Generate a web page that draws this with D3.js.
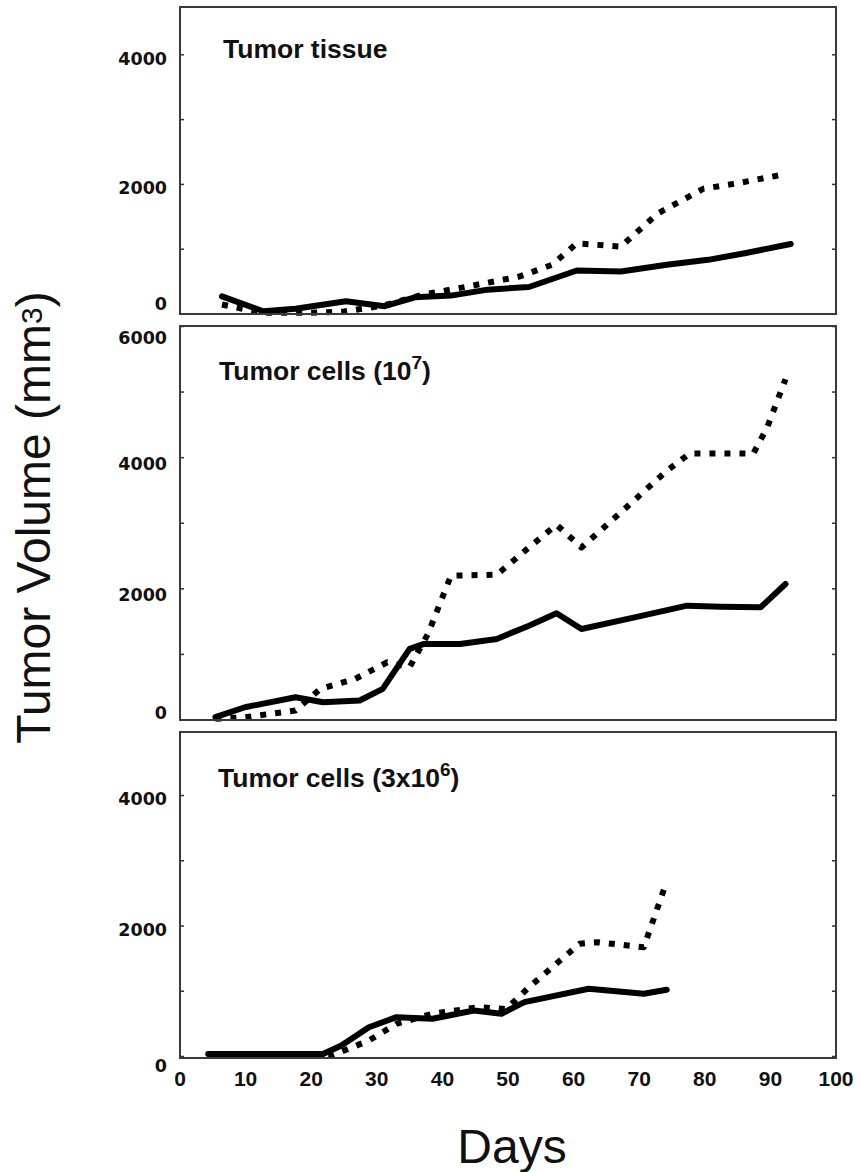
<!DOCTYPE html>
<html><head><meta charset="utf-8">
<script src="https://cdn.jsdelivr.net/npm/d3@7"></script>
<style>body{margin:0;background:#fff}</style>
</head><body>
<svg id="c" width="859" height="1172" xmlns="http://www.w3.org/2000/svg"></svg>
<script>
// ---------- data ----------
const xTickValues = [0, 10, 20, 30, 40, 50, 60, 70, 80, 90, 100];

const tissueSolidDays = [6.4, 12.7, 17.6, 25.3, 31.2, 35.8, 41.3, 46.9, 53.2, 60.5, 67.2, 74.2, 80.5, 86.1, 93.1];
const tissueSolidVals = [265, 35, 72, 190, 112, 250, 276, 368, 409, 664, 649, 751, 828, 930, 1073];
const tissueDotDays   = [6.4, 12.7, 19.5, 25, 31, 37, 44, 51.8, 56.7, 60.5, 67.2, 72.8, 79.8, 84.6, 92];
const tissueDotVals   = [138, 10, 10, 30, 123, 290, 419, 572, 751, 1083, 1032, 1543, 1926, 2003, 2146];

const cells7SolidDays = [5.4, 9.9, 17.6, 21.8, 27.4, 30.9, 35, 37.2, 42.7, 48.3, 53.2, 57.4, 61.2, 69.3, 77.3, 82.5, 88.5, 92.3];
const cells7SolidVals = [35, 187, 340, 264, 289, 467, 1076, 1152, 1152, 1228, 1431, 1619, 1380, 1557, 1736, 1720, 1710, 2066];
const cells7DotDays   = [5.4, 9.9, 17.6, 21.4, 26.7, 31.6, 35, 37.8, 41.3, 48.3, 53.2, 57.4, 61.2, 68.6, 74.2, 77.7, 87.4, 89.5, 92.3];
const cells7DotVals   = [10, 35, 137, 467, 619, 873, 797, 1305, 2193, 2208, 2624, 2970, 2624, 3285, 3792, 4056, 4056, 4452, 5188];

const cells6SolidDays = [4.3, 21.8, 24.6, 28.8, 33, 38.5, 44.8, 49, 52.5, 62.3, 70.7, 74.2];
const cells6SolidVals = [30, 30, 160, 441, 595, 570, 697, 647, 825, 1030, 953, 1015];
const cells6DotDays   = [4.3, 23.2, 28.8, 33, 38.5, 45.5, 49.7, 53.2, 60.9, 63.7, 70.7, 73.8];
const cells6DotVals   = [10, 10, 237, 493, 647, 748, 720, 1054, 1720, 1744, 1667, 2562];

const panelTitles = ["Tumor tissue", "Tumor cells (10", "Tumor cells (3x10"];
const panelTitleSups = ["", "7", "6"];
const panelYMax = [4730, 6000, 4966];
const panelYTicks = [[0,1000,2000,3000,4000],[0,1000,2000,3000,4000,5000,6000],[0,1000,2000,3000,4000]];
const panelYLabels = [[0,2000,4000],[0,2000,4000,6000],[0,2000,4000]];

// ---------- layout ----------
const svg = d3.select("#c");
const left = 180, right = 836;
const x = d3.scaleLinear().domain([0, 100]).range([left, right]);

const layout = [
  {frameTop: 7,   frameBottom: 314,  zeroPx: 313.5, titleX: 223, titleY: 58,
   labelOffset: v => v === 0 ? -9.5 : 4},
  {frameTop: 326, frameBottom: 720,  zeroPx: 719.5, titleX: 219, titleY: 380,
   labelOffset: v => v === 0 ? -6.5 : (v === 6000 ? 12 : 6)},
  {frameTop: 732, frameBottom: 1058, zeroPx: 1056,  titleX: 218, titleY: 787,
   labelOffset: v => v === 0 ? 10 : 4}
];

const series = [
  [{d: tissueDotDays, v: tissueDotVals, dash: true}, {d: tissueSolidDays, v: tissueSolidVals, dash: false}],
  [{d: cells7DotDays, v: cells7DotVals, dash: true}, {d: cells7SolidDays, v: cells7SolidVals, dash: false}],
  [{d: cells6DotDays, v: cells6DotVals, dash: true}, {d: cells6SolidDays, v: cells6SolidVals, dash: false}]
];

layout.forEach((L, i) => {
  const y = d3.scaleLinear().domain([0, panelYMax[i]]).range([L.zeroPx, L.frameTop]);
  const g = svg.append("g");

  // lines
  const line = d3.line().x(d => x(d[0])).y(d => y(d[1]));
  series[i].forEach(s => {
    const pts = s.d.map((d, k) => [d, s.v[k]]);
    g.append("path").datum(pts).attr("d", line)
      .attr("fill", "none").attr("stroke", "#000")
      .attr("stroke-width", 6)
      .attr("stroke-linejoin", "round")
      .attr("stroke-linecap", s.dash ? "butt" : "round")
      .attr("stroke-dasharray", s.dash ? "6,9" : null);
  });

  // inner ticks left & right
  const lAxis = d3.axisRight(y).tickValues(panelYTicks[i]).tickSize(4).tickFormat("");
  const rAxis = d3.axisLeft(y).tickValues(panelYTicks[i]).tickSize(4).tickFormat("");
  const la = g.append("g").attr("transform", `translate(${left},0)`).call(lAxis);
  const ra = g.append("g").attr("transform", `translate(${right},0)`).call(rAxis);
  [la, ra].forEach(a => { a.select(".domain").remove(); a.selectAll("line").attr("stroke", "#333").attr("stroke-width", 1.5); });

  // frame
  g.append("rect").attr("x", left).attr("y", L.frameTop)
    .attr("width", right - left).attr("height", L.frameBottom - L.frameTop)
    .attr("fill", "none").attr("stroke", "#3a3a3a").attr("stroke-width", 2);

  // y tick labels
  g.selectAll("text.yl").data(panelYLabels[i]).enter().append("text")
    .attr("class", "yl")
    .attr("x", 167)
    .attr("y", v => y(v) + L.labelOffset(v) + 6.4)
    .attr("text-anchor", "end")
    .attr("font-family", "DejaVu Sans, sans-serif")
    .attr("font-weight", "bold")
    .attr("font-size", 17.5)
    .attr("fill", "#111")
    .text(v => v);

  // title
  const t = g.append("text").attr("x", L.titleX).attr("y", L.titleY)
    .attr("font-family", "Liberation Sans, Arial, sans-serif")
    .attr("font-weight", "bold").attr("font-size", 26.5).attr("fill", "#111");
  t.append("tspan").text(panelTitles[i]);
  if (panelTitleSups[i]) {
    t.append("tspan").attr("font-size", 19).attr("dy", -11).text(panelTitleSups[i]);
    t.append("tspan").attr("dy", 11).text(")");
  }
});

// x axis labels
svg.append("g").selectAll("text").data(xTickValues).enter().append("text")
  .attr("x", d => x(d)).attr("y", 1085.5)
  .attr("text-anchor", "middle")
  .attr("font-family", "Liberation Sans, Arial, sans-serif")
  .attr("font-weight", "bold").attr("font-size", 21).attr("fill", "#111")
  .text(d => d);

// axis titles
svg.append("text").attr("x", 512).attr("y", 1163)
  .attr("text-anchor", "middle")
  .attr("font-family", "Liberation Sans, Arial, sans-serif")
  .attr("font-size", 48).attr("fill", "#111").text("Days");

const yt = svg.append("text")
  .attr("transform", "translate(50,517.5) rotate(-90)")
  .attr("text-anchor", "middle")
  .attr("font-family", "Liberation Sans, Arial, sans-serif")
  .attr("font-size", 48).attr("fill", "#111");
yt.append("tspan").text("Tumor Volume (mm");
yt.append("tspan").attr("font-size", 30).attr("dy", -8).text("3");
yt.append("tspan").attr("dy", 8).text(")");
</script>
</body></html>
